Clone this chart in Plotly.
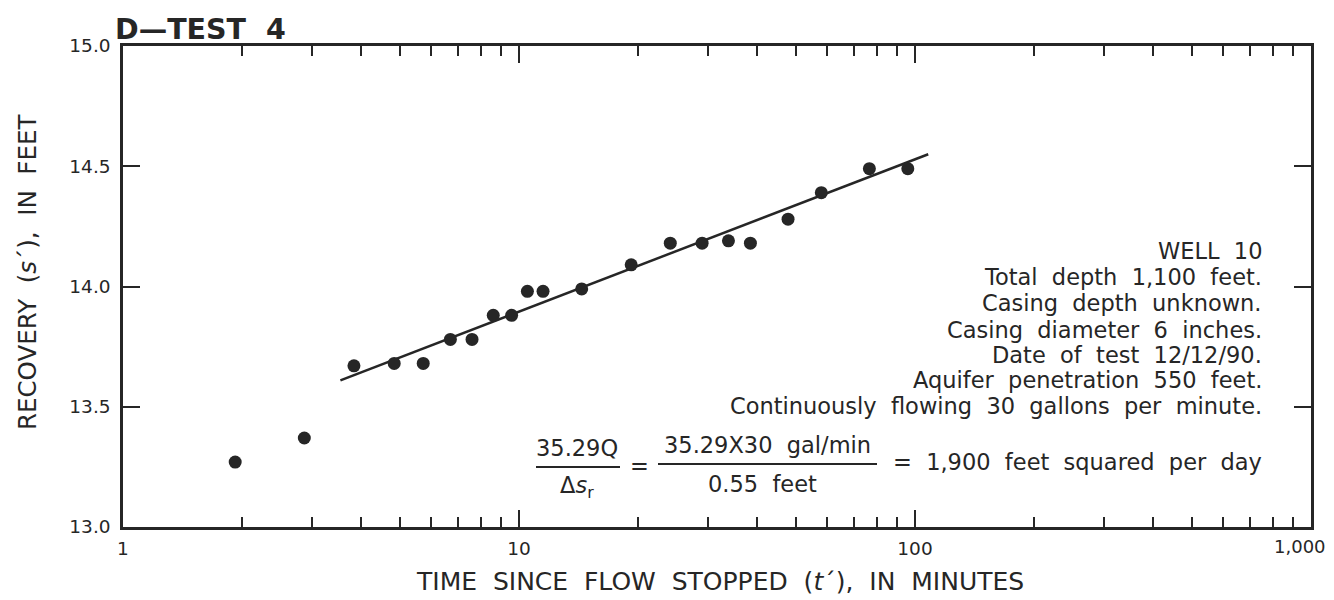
import plotly.graph_objects as go

# observed recovery data (time since flow stopped in minutes, recovery in feet)
time_min = [1.92, 2.87, 3.83, 4.84, 5.73, 6.71, 7.61, 8.61, 9.58, 10.5, 11.5,
            14.4, 19.2, 24.1, 29.0, 33.8, 38.4, 47.8, 58.0, 76.7, 95.9]
recovery_ft = [13.27, 13.37, 13.67, 13.68, 13.68, 13.78, 13.78, 13.88, 13.88, 13.98, 13.98,
               13.99, 14.09, 14.18, 14.18, 14.19, 14.18, 14.28, 14.39, 14.49, 14.49]

# fitted straight line
fit_time = [3.54, 108]
fit_recovery = [13.61, 14.55]

x_major = [1, 10, 100]
x_major_text = ["1", "10", "100"]
x_minor = [m * d for d in (1, 10, 100) for m in range(2, 10)]
y_ticks = [13.0, 13.5, 14.0, 14.5, 15.0]

well_notes = [
    "WELL  10",
    "Total  depth  1,100  feet.",
    "Casing  depth  unknown.",
    "Casing  diameter  6  inches.",
    "Date  of  test  12/12/90.",
    "Aquifer  penetration  550  feet.",
    "Continuously  flowing  30  gallons  per  minute.",
]

INK = "#262626"
FONT = "DejaVu Sans, Liberation Sans, sans-serif"

# page has an 8px body margin, so the figure is a bit smaller than the window
PAGE_OFF = 8
W, H = 1326, 592
PLOT_L, PLOT_R, PLOT_T, PLOT_B = 123, 1311, 46, 527
L = PLOT_L - PAGE_OFF
R = PAGE_OFF + W - PLOT_R
T = PLOT_T - PAGE_OFF
B = PAGE_OFF + H - PLOT_B


def px_x(px):
    return (px - PLOT_L) / (PLOT_R - PLOT_L)


def px_y(py):
    return (PLOT_B - py) / (PLOT_B - PLOT_T)


def note(text, px, py, size=22.5, anchor="center", **kw):
    return dict(
        text=text, x=px_x(px), y=px_y(py), xref="paper", yref="paper",
        xanchor=anchor, yanchor="middle", showarrow=False,
        font=dict(size=size, color=INK, family=FONT), **kw,
    )


fig = go.Figure()

fig.add_trace(go.Scatter(
    x=fit_time, y=fit_recovery, mode="lines",
    line=dict(color=INK, width=2.5), hoverinfo="skip",
))
fig.add_trace(go.Scatter(
    x=time_min, y=recovery_ft, mode="markers",
    marker=dict(color=INK, size=13, line=dict(width=0)),
))

annotations = [
    note("<b>D—TEST  4</b>", 113, 29, size=28.5, anchor="left"),
    note("TIME  SINCE  FLOW  STOPPED  (<i>t</i>´),  IN  MINUTES", 720, 581, size=25),
    note("RECOVERY  (<i>s</i>´),  IN  FEET", 27, 272, size=24.5, textangle=-90),
    note("1,000", 1300, 546, size=18),
]

# well description block
line_y = [251, 277, 303, 330, 355, 380, 406]
for txt, py in zip(well_notes, line_y):
    annotations.append(note(txt, 1264, py, anchor="right"))

# transmissivity formula
annotations += [
    note("35.29Q", 577, 448),
    note("Δ<i>s</i><sub>r</sub>", 577, 487),
    note("=", 639, 466),
    note("35.29X30  gal/min", 767, 445),
    note("0.55  feet", 762, 484),
    note("=  1,900  feet  squared  per  day", 1264, 462, anchor="right"),
]

shapes = [
    dict(type="line", xref="paper", yref="paper",
         x0=px_x(536), x1=px_x(620), y0=px_y(467), y1=px_y(467),
         line=dict(color=INK, width=2)),
    dict(type="line", xref="paper", yref="paper",
         x0=px_x(658), x1=px_x(877), y0=px_y(464), y1=px_y(464),
         line=dict(color=INK, width=2)),
]

fig.update_layout(
    width=W, height=H,
    margin=dict(l=L, r=R, t=T, b=B),
    paper_bgcolor="white", plot_bgcolor="white",
    showlegend=False,
    font=dict(family=FONT, size=18.5, color=INK),
    annotations=annotations,
    shapes=shapes,
)

fig.update_xaxes(
    type="log", range=[0, 3],
    tickvals=x_major, ticktext=x_major_text,
    ticks="inside", ticklen=17, tickwidth=2, tickcolor=INK,
    minor=dict(tickvals=x_minor, ticks="inside", ticklen=10, tickwidth=2, tickcolor=INK),
    showline=True, linewidth=2.5, linecolor=INK, mirror="ticks",
    showgrid=False, zeroline=False,
    tickfont=dict(size=18.5, color=INK, family=FONT),
    ticklabelstandoff=3,
)
fig.update_yaxes(
    range=[13, 15],
    tickvals=y_ticks, tickformat=".1f",
    ticks="inside", ticklen=17, tickwidth=2, tickcolor=INK,
    showline=True, linewidth=2.5, linecolor=INK, mirror="ticks",
    showgrid=False, zeroline=False,
    tickfont=dict(size=18.5, color=INK, family=FONT),
    ticklabelstandoff=6,
)

fig.write_html("out.html")
